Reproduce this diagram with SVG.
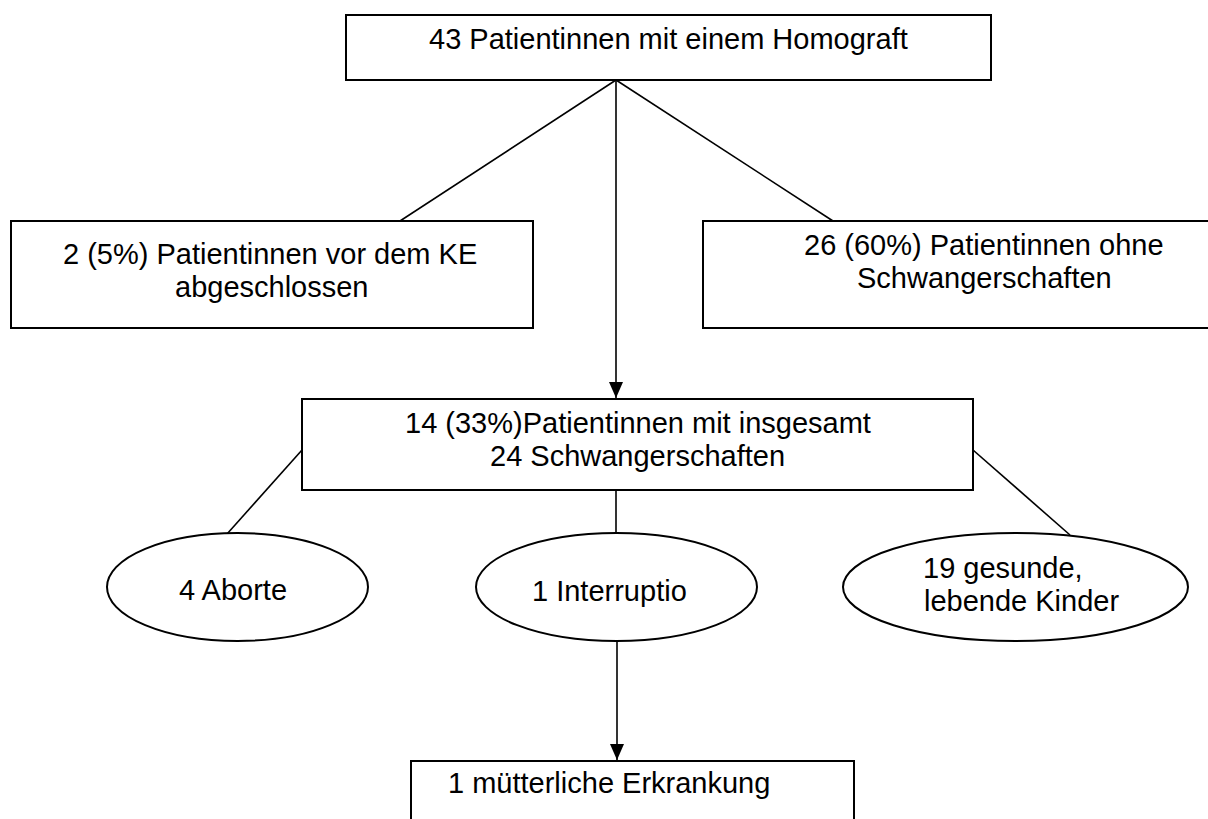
<svg xmlns="http://www.w3.org/2000/svg" width="1208" height="819" viewBox="0 0 1208 819">
<defs>
<style>
.box{fill:#fff;stroke:#000;stroke-width:2}
.t{font-family:"Liberation Sans",Arial,sans-serif;font-size:29px;fill:#000}
.c{stroke:#000;stroke-width:1.6;fill:none}
</style>
<marker id="arr" markerWidth="16" markerHeight="14" refX="16" refY="7" orient="auto" markerUnits="userSpaceOnUse">
<path d="M0,0 L16,7 L0,14 Z" fill="#000"/>
</marker>
</defs>
<rect width="1208" height="819" fill="#fff"/>
<g id="connectors">
<line class="c" x1="616" y1="80" x2="400" y2="221"/>
<line class="c" x1="616" y1="80" x2="833" y2="221"/>
<line class="c" x1="616" y1="80" x2="616" y2="398" marker-end="url(#arr)"/>
<line class="c" x1="302" y1="450" x2="227" y2="534"/>
<line class="c" x1="616" y1="491" x2="616" y2="533"/>
<line class="c" x1="973" y1="450" x2="1070" y2="535"/>
<line class="c" x1="617" y1="641" x2="617" y2="760" marker-end="url(#arr)"/>
</g>
<g id="n1"><rect class="box" x="346" y="15" width="645" height="65"/><text class="t" x="429" y="49">43 Patientinnen mit einem Homograft</text></g>
<g id="n2"><rect class="box" x="11" y="221" width="522" height="107"/><text class="t" x="63" y="264">2 (5%) Patientinnen vor dem KE</text><text class="t" x="175" y="297">abgeschlossen</text></g>
<g id="n3"><rect class="box" x="703" y="221" width="520" height="107"/><text class="t" x="804" y="255">26 (60%) Patientinnen ohne</text><text class="t" x="857" y="288">Schwangerschaften</text></g>
<g id="n4"><rect class="box" x="302" y="399" width="671" height="91"/><text class="t" x="405" y="433">14 (33%)Patientinnen mit insgesamt</text><text class="t" x="490" y="466">24 Schwangerschaften</text></g>
<g id="n5"><ellipse class="box" cx="237.5" cy="587" rx="130.5" ry="54"/><text class="t" x="179" y="600">4 Aborte</text></g>
<g id="n6"><ellipse class="box" cx="616.5" cy="587" rx="140.5" ry="54"/><text class="t" x="532" y="601">1 Interruptio</text></g>
<g id="n7"><ellipse class="box" cx="1015.5" cy="587" rx="172.5" ry="54"/><text class="t" x="923" y="578">19 gesunde,</text><text class="t" x="924" y="611">lebende Kinder</text></g>
<g id="n8"><rect class="box" x="411" y="761" width="443" height="70"/><text class="t" x="448" y="793">1 mütterliche Erkrankung</text></g>
</svg>
